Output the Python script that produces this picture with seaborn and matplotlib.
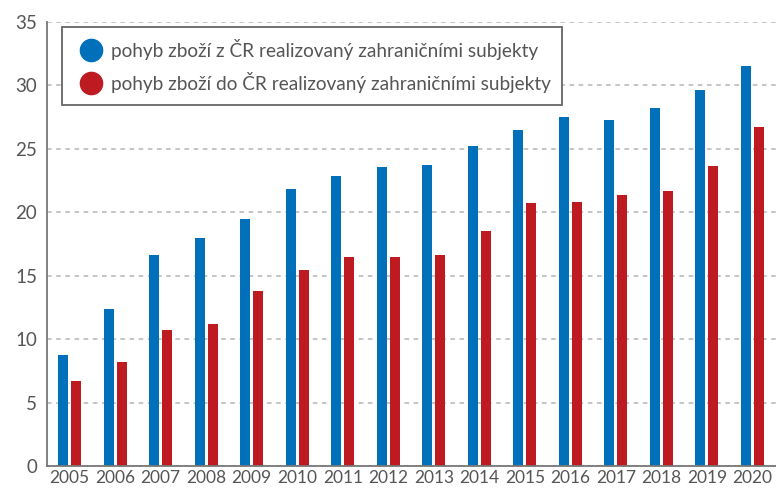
import matplotlib
matplotlib.use("Agg")
import matplotlib.pyplot as plt
from matplotlib.lines import Line2D
import seaborn as sns
import pandas as pd

years = [str(y) for y in range(2005, 2021)]
export_vals = [8.75, 12.35, 16.6, 17.95, 19.5, 21.8, 22.85, 23.6, 23.7, 25.25,
               26.5, 27.55, 27.3, 28.2, 29.65, 31.5]
import_vals = [6.7, 8.2, 10.7, 11.2, 13.8, 15.45, 16.5, 16.5, 16.65, 18.5,
               20.7, 20.8, 21.4, 21.7, 23.65, 26.75]
series_names = ["pohyb zboží z ČR realizovaný zahraničními subjekty",
                "pohyb zboží do ČR realizovaný zahraničními subjekty"]
colors = ["#0070BA", "#BE1A22"]
y_ticks = [0, 5, 10, 15, 20, 25, 30, 35]

df = pd.DataFrame({
    "rok": years * 2,
    "hodnota": export_vals + import_vals,
    "serie": [series_names[0]] * len(years) + [series_names[1]] * len(years),
})

sns.set_theme(style="white")
plt.rcParams["font.family"] = ["Lato", "DejaVu Sans"]
text_color = "#555555"

fig = plt.figure(figsize=(7.76, 4.88), dpi=100)
ax = fig.add_axes([47 / 776, 22 / 488, 729 / 776, 444 / 488])

sns.barplot(data=df, x="rok", y="hodnota", hue="serie", palette=colors,
            width=0.57, gap=0.23, ax=ax, legend=False, saturation=1,
            edgecolor="none")

ax.set_ylim(0, 35)
ax.set_xlim(-0.5, 15.52)
ax.set_yticks(y_ticks)
ax.set_xlabel("")
ax.set_ylabel("")

ax.grid(axis="y", color="#b5b5b5", linestyle=(0, (3, 3)), linewidth=1.1)
ax.set_axisbelow(True)

for side in ["top", "right"]:
    ax.spines[side].set_visible(False)
for side in ["left", "bottom"]:
    ax.spines[side].set_color("#777777")
    ax.spines[side].set_linewidth(1.3)

ax.tick_params(axis="y", length=0, pad=7, labelsize=13.5, labelcolor=text_color)
ax.tick_params(axis="x", length=0, pad=3, labelsize=12.5, labelcolor=text_color)

handles = [Line2D([], [], linestyle="none", marker="o", markersize=16,
                  markerfacecolor=c, markeredgecolor=c) for c in colors]
leg = ax.legend(handles, series_names, loc="upper left",
                bbox_to_anchor=(0.021, 0.988), borderaxespad=0, frameon=True,
                fancybox=False, fontsize=13.7, handletextpad=0.15,
                handlelength=1.8, borderpad=0.6, labelspacing=0.65)
frame = leg.get_frame()
frame.set_edgecolor("#666666")
frame.set_linewidth(1.3)
frame.set_facecolor("white")
frame.set_alpha(1)
for t in leg.get_texts():
    t.set_color(text_color)

fig.savefig("out.png", dpi=100)
